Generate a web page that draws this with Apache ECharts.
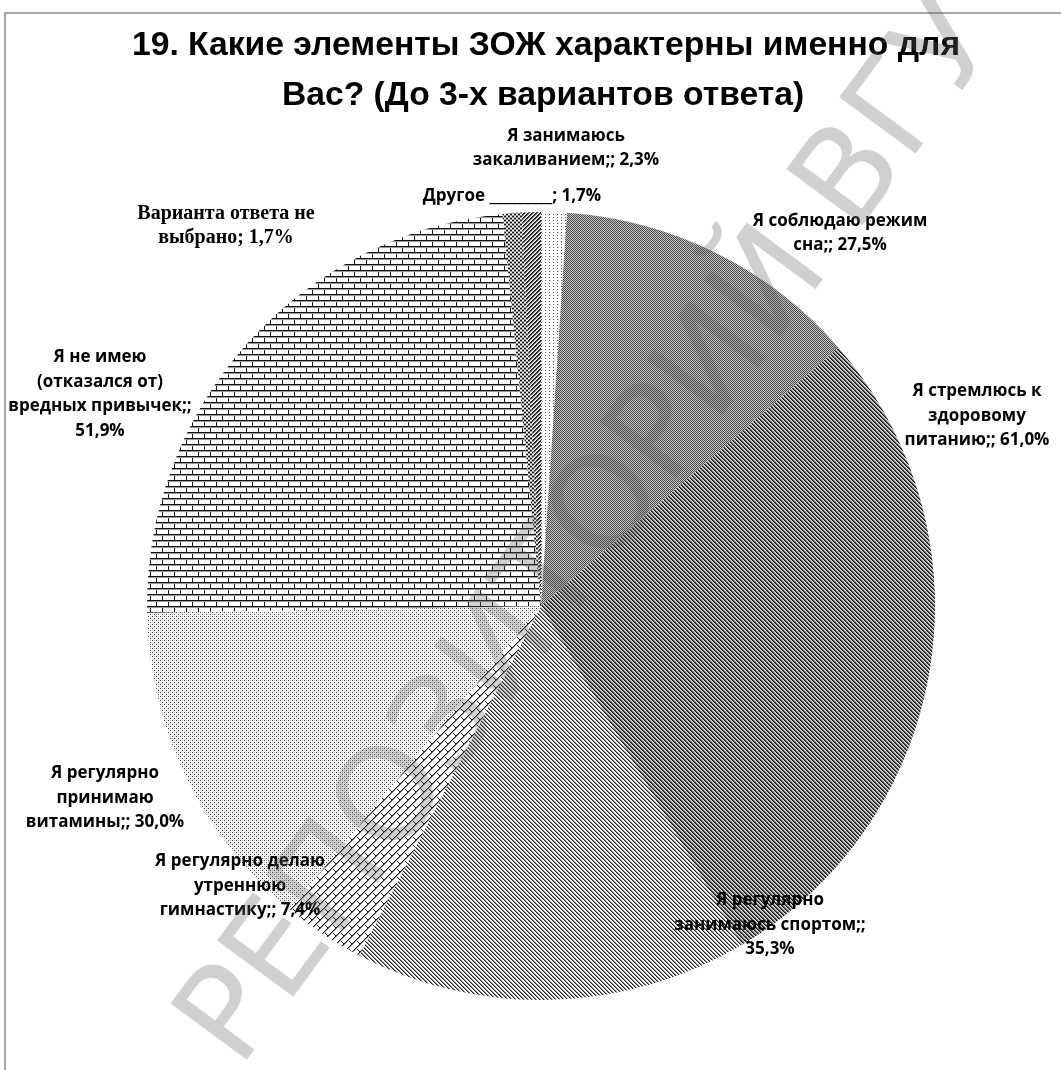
<!DOCTYPE html>
<html>
<head>
<meta charset="utf-8">
<script src="https://cdn.jsdelivr.net/npm/echarts@6/dist/echarts.min.js"></script>
<style>
  html, body { margin: 0; padding: 0; background: #fff; }
  #chart { width: 1061px; height: 1070px; }
</style>
</head>
<body>
<div id="chart"></div>
<script>
// Survey answers, in the order the slices run clockwise from 12 o'clock
const categories = [
  'Я занимаюсь\nзакаливанием;',
  'Я соблюдаю режим\nсна;',
  'Я стремлюсь к\nздоровому\nпитанию;',
  'Я регулярно\nзанимаюсь спортом;',
  'Я регулярно делаю\nутреннюю\nгимнастику;',
  'Я регулярно\nпринимаю\nвитамины;',
  'Я не имею\n(отказался от)\nвредных привычек;',
  'Варианта ответа не\nвыбрано',
  'Другое _________'
];
// Share of respondents, %
const values = [2.3, 27.5, 61.0, 35.3, 7.4, 30.0, 51.9, 1.7, 1.7];
// Whether the value goes on its own line after the name
const valueOnNewLine = [false, false, false, true, false, false, true, false, false];

const titleLines = [
  '19. Какие элементы ЗОЖ характерны именно для',
  'Вас? (До 3-х вариантов ответа)'
];
const watermarkText = 'РЕПОЗИТОРИЙ ВГУ';

// ---- fill patterns (monochrome hatches) ----
function pixelTile(w, h, painter) {
  const c = document.createElement('canvas');
  c.width = w; c.height = h;
  const ctx = c.getContext('2d');
  ctx.fillStyle = '#fff';
  ctx.fillRect(0, 0, w, h);
  for (let y = 0; y < h; y++) {
    for (let x = 0; x < w; x++) {
      const col = painter(x, y);
      if (col) { ctx.fillStyle = col; ctx.fillRect(x, y, 1, 1); }
    }
  }
  return c;
}
const pat = (canvas) => ({ image: canvas, repeat: 'repeat' });

const patterns = [
  // sparse dots
  pat(pixelTile(4, 3, (x, y) => (x === 1 && y === 1) ? '#555' : null)),
  // fine checker
  pat(pixelTile(2, 2, (x, y) => ((x + y) % 2 === 0) ? '#4a4a4a' : '#c4c4c4')),
  // dense downward diagonal
  pat(pixelTile(4, 4, (x, y) => {
    const k = ((x - y) % 4 + 4) % 4;
    return k === 0 ? '#111' : (k === 1 ? '#555' : (k === 2 ? '#aaa' : '#ddd'));
  })),
  // light downward diagonal
  pat(pixelTile(4, 4, (x, y) => {
    const k = ((x - y) % 4 + 4) % 4;
    return k === 0 ? '#222' : (k === 1 ? '#888' : null);
  })),
  // diagonal brick
  pat(pixelTile(8, 8, (x, y) => {
    if (x === 7 - y) return '#111';
    if (x === (8 - y) % 8) return '#999';
    if (y >= 4 && x === y) return '#111';
    return null;
  })),
  // light dotted
  pat(pixelTile(4, 4, (x, y) => {
    if ((x === 0 && y === 0) || (x === 2 && y === 2)) return '#444';
    if ((x === 2 && y === 0) || (x === 0 && y === 2)) return '#c8c8c8';
    return null;
  })),
  // horizontal brick
  pat(pixelTile(12, 12, (x, y) => {
    if (y === 0 || y === 6) return '#111';
    if (y === 1 || y === 7) return '#999';
    if (y < 6 && x === 0) return '#111';
    if (y > 6 && x === 6) return '#111';
    return null;
  })),
  // dotted diamonds
  pat(pixelTile(4, 4, (x, y) => {
    const a = (x + y) % 4, b = ((x - y) % 4 + 4) % 4;
    if (a < 2 && b < 2) return '#111';
    if (a < 2 || b < 2) return '#999';
    return null;
  })),
  // dense upward diagonal
  pat(pixelTile(4, 4, (x, y) => {
    const k = (x + y) % 4;
    return k === 0 ? '#111' : (k === 1 ? '#444' : (k === 2 ? '#bbb' : null));
  }))
];

// label anchor points (centre of each text block)
const labelPos = [
  [566, 148], [840, 233], [977, 416], [770, 925], [240, 886],
  [105, 798], [100, 394], [226, 226], [512, 196]
];

const fmt = (v) => v.toFixed(1).replace('.', ',') + '%';

const pieData = categories.map((name, i) => {
  const item = {
    name: name,
    value: values[i],
    itemStyle: { color: patterns[i] }
  };
  if (i === 7) {
    item.label = { fontFamily: '"Liberation Serif", serif', fontSize: 20, lineHeight: 24 };
  }
  return item;
});

const chart = echarts.init(document.getElementById('chart'), null, { renderer: 'canvas' });

const titleFont = 'bold 34px "Liberation Sans", Arial, sans-serif';

chart.setOption({
  animation: false,
  backgroundColor: '#fff',
  graphic: [
    {
      type: 'rect',
      shape: { x: 5, y: 13, width: 1200, height: 1200 },
      style: { fill: 'none', stroke: '#8a8a8a', lineWidth: 1.5 },
      z: 0
    },
    {
      type: 'text', x: 546, y: 46, scaleX: 0.99,
      style: {
        text: titleLines[0], fill: '#000', font: titleFont,
        textAlign: 'center', textVerticalAlign: 'middle'
      },
      z: 10
    },
    {
      type: 'text', x: 543, y: 96, scaleX: 0.99,
      style: {
        text: titleLines[1], fill: '#000', font: titleFont,
        textAlign: 'center', textVerticalAlign: 'middle'
      },
      z: 10
    },
    {
      type: 'text', x: 212, y: 1050, rotation: 0.935,
      style: {
        text: watermarkText, fill: 'rgba(100,100,100,0.3)',
        font: '130px "DejaVu Sans", sans-serif',
        textAlign: 'left', textVerticalAlign: 'middle'
      },
      z: 100, silent: true
    }
  ],
  series: [{
    type: 'pie',
    center: [541, 606],
    radius: 394,
    startAngle: 90,
    clockwise: true,
    avoidLabelOverlap: false,
    itemStyle: { borderWidth: 0 },
    label: {
      show: true,
      position: 'outside',
      color: '#000',
      fontFamily: '"Open Sans", "Liberation Sans", sans-serif',
      fontWeight: 'bold',
      fontSize: 17,
      lineHeight: 24.5,
      align: 'center',
      formatter: (p) => p.name + ';' + (valueOnNewLine[p.dataIndex] ? '\n' : ' ') + fmt(p.value)
    },
    labelLine: { show: false },
    labelLayout: (p) => ({
      x: labelPos[p.dataIndex][0],
      y: labelPos[p.dataIndex][1],
      align: 'center',
      verticalAlign: 'middle'
    }),
    emphasis: { disabled: true },
    data: pieData
  }]
});
</script>
</body>
</html>
